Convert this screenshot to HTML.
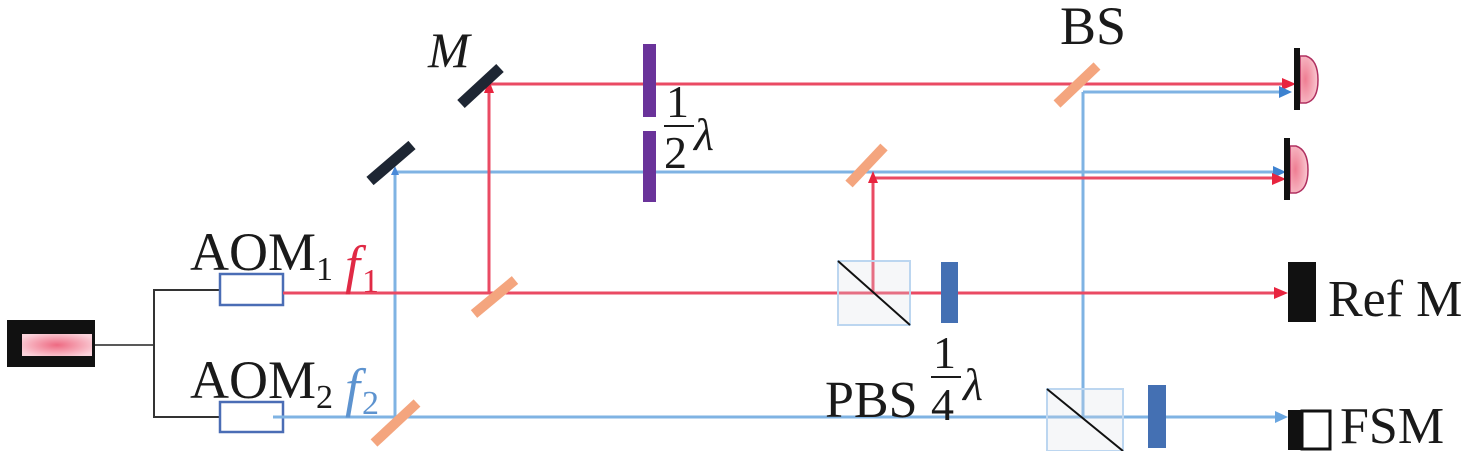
<!DOCTYPE html>
<html><head><meta charset="utf-8"><style>
html,body{margin:0;padding:0;background:#fff;}
svg{display:block;}
text{font-family:"Liberation Serif","DejaVu Serif","Times New Roman",serif;fill:#1a1a1a;}
</style></head><body>
<svg width="1476" height="451" viewBox="0 0 1476 451" xmlns="http://www.w3.org/2000/svg" font-family="Liberation Serif, DejaVu Serif, serif">
<defs>
<radialGradient id="pk" cx="50%" cy="50%" r="60%"><stop offset="0" stop-color="#ee6a82"/><stop offset="1" stop-color="#fbd3db"/></radialGradient>
<radialGradient id="pk2" cx="30%" cy="50%" r="70%"><stop offset="0" stop-color="#ef7d92"/><stop offset="1" stop-color="#f9c9d2"/></radialGradient>
</defs>
<rect x="7" y="320" width="88" height="47" fill="#111"/>
<rect x="22" y="334" width="70" height="22" fill="url(#pk)"/>
<line x1="95" y1="345" x2="154" y2="345" stroke="#222" stroke-width="1.5"/>
<polyline points="219,290 154,290 154,417 219,417" fill="none" stroke="#333" stroke-width="2"/>
<rect x="220" y="274" width="63" height="31" fill="#fff" stroke="#4a6db5" stroke-width="2.5"/>
<rect x="220" y="402" width="63" height="30" fill="#fff" stroke="#4a6db5" stroke-width="2.5"/>

<g stroke="#7fb3e3" stroke-width="3" fill="none">
<line x1="273" y1="417" x2="1283" y2="417"/>
<line x1="395" y1="417" x2="395" y2="172"/>
<line x1="395" y1="172" x2="643" y2="172"/>
<line x1="656" y1="172" x2="1280" y2="172"/>
<line x1="1083" y1="92" x2="1083" y2="417"/>
<line x1="1083" y1="92" x2="1285" y2="92"/>
</g>
<g stroke="#ea4a63" stroke-width="3" fill="none">
<line x1="283" y1="293" x2="1282" y2="293"/>
<line x1="489" y1="293" x2="489" y2="88"/>
<line x1="489" y1="84" x2="643" y2="84"/>
<line x1="656" y1="84" x2="1288" y2="84"/>
<line x1="873" y1="293" x2="873" y2="180"/>
<line x1="873" y1="178" x2="1278" y2="178"/>
</g>
<polygon points="1296,84 1282,78 1282,90" fill="#e8243f"/>
<polygon points="1292,92 1279,86 1279,98" fill="#3d82d0"/>
<polygon points="1286,172 1273,166 1273,178" fill="#3d82d0"/>
<polygon points="1286,179 1272,173 1272,185" fill="#e8243f"/>
<polygon points="1288,293 1274,287 1274,299" fill="#e8243f"/>
<polygon points="1288,417 1275,411 1275,423" fill="#6aa6e0"/>
<polygon points="489,80 484,93 494,93" fill="#e8243f"/>
<polygon points="873,171 868,183 878,183" fill="#e8243f"/>
<polygon points="395,166 391,175 399,175" fill="#4a8ad8"/>

<line x1="461" y1="104" x2="500" y2="68" stroke="#1e2633" stroke-width="11"/>
<line x1="370" y1="181" x2="412" y2="145" stroke="#1e2633" stroke-width="11"/>
<g stroke="#f4a57e" stroke-width="10">
<line x1="474" y1="314" x2="515" y2="280"/>
<line x1="374" y1="443" x2="417" y2="403"/>
<line x1="849" y1="184" x2="884" y2="147"/>
<line x1="1057" y1="104" x2="1097" y2="66"/>
</g>
<rect x="643" y="44" width="13" height="73" fill="#6a339a"/>
<rect x="643" y="131" width="13" height="71" fill="#6a339a"/>
<rect x="838" y="261" width="72" height="64" fill="rgba(220,225,230,0.25)" stroke="#bcd6f0" stroke-width="2"/>
<line x1="838" y1="261" x2="910" y2="325" stroke="#111" stroke-width="2"/>
<rect x="1047" y="389" width="76" height="62" fill="rgba(220,225,230,0.25)" stroke="#bcd6f0" stroke-width="2"/>
<line x1="1047" y1="389" x2="1123" y2="451" stroke="#111" stroke-width="2"/>
<rect x="941" y="262" width="17" height="61" fill="#4470b3"/>
<rect x="1148" y="385" width="18" height="63" fill="#4470b3"/>
<path d="M1300,56 H1306 Q1318,60 1318,80 Q1318,100 1306,103 H1300 Z" fill="url(#pk2)" stroke="#b03060" stroke-width="1.5"/>
<rect x="1294" y="48" width="6" height="62" fill="#111"/>
<path d="M1290,146 H1296 Q1308,150 1308,170 Q1308,190 1296,193 H1290 Z" fill="url(#pk2)" stroke="#b03060" stroke-width="1.5"/>
<rect x="1284" y="138" width="6" height="62" fill="#111"/>
<rect x="1288" y="262" width="28" height="60" fill="#111"/>
<rect x="1288" y="410" width="13" height="40" fill="#111"/>
<rect x="1302" y="411" width="28" height="38" fill="#fff" stroke="#111" stroke-width="3"/>

<text x="190" y="270" font-size="54">AOM<tspan font-size="34" dy="10">1</tspan></text>
<text x="190" y="398" font-size="54">AOM<tspan font-size="34" dy="10">2</tspan></text>
<text x="345" y="283" font-size="54" font-style="italic" style="fill:#e02a45">f</text>
<text x="362" y="292" font-size="34" style="fill:#e02a45">1</text>
<text x="345" y="406" font-size="54" font-style="italic" style="fill:#5d93cf">f</text>
<text x="362" y="414" font-size="34" style="fill:#5d93cf">2</text>
<text x="428" y="67" font-size="50" font-style="italic">M</text>
<text x="1060" y="44" font-size="54">BS</text>
<text x="825" y="417" font-size="52">PBS</text>
<text x="1328" y="316" font-size="52">Ref M</text>
<text x="1340" y="443" font-size="52">FSM</text>
<text x="666" y="117" font-size="46">1</text>
<line x1="664" y1="126" x2="694" y2="126" stroke="#1a1a1a" stroke-width="2"/>
<text x="664" y="168" font-size="46">2</text>
<text x="694" y="150" font-size="46" font-style="italic">λ</text>
<text x="933" y="368" font-size="46">1</text>
<line x1="931" y1="377" x2="961" y2="377" stroke="#1a1a1a" stroke-width="2"/>
<text x="931" y="420" font-size="46">4</text>
<text x="963" y="400" font-size="46" font-style="italic">λ</text>
</svg>
</body></html>
